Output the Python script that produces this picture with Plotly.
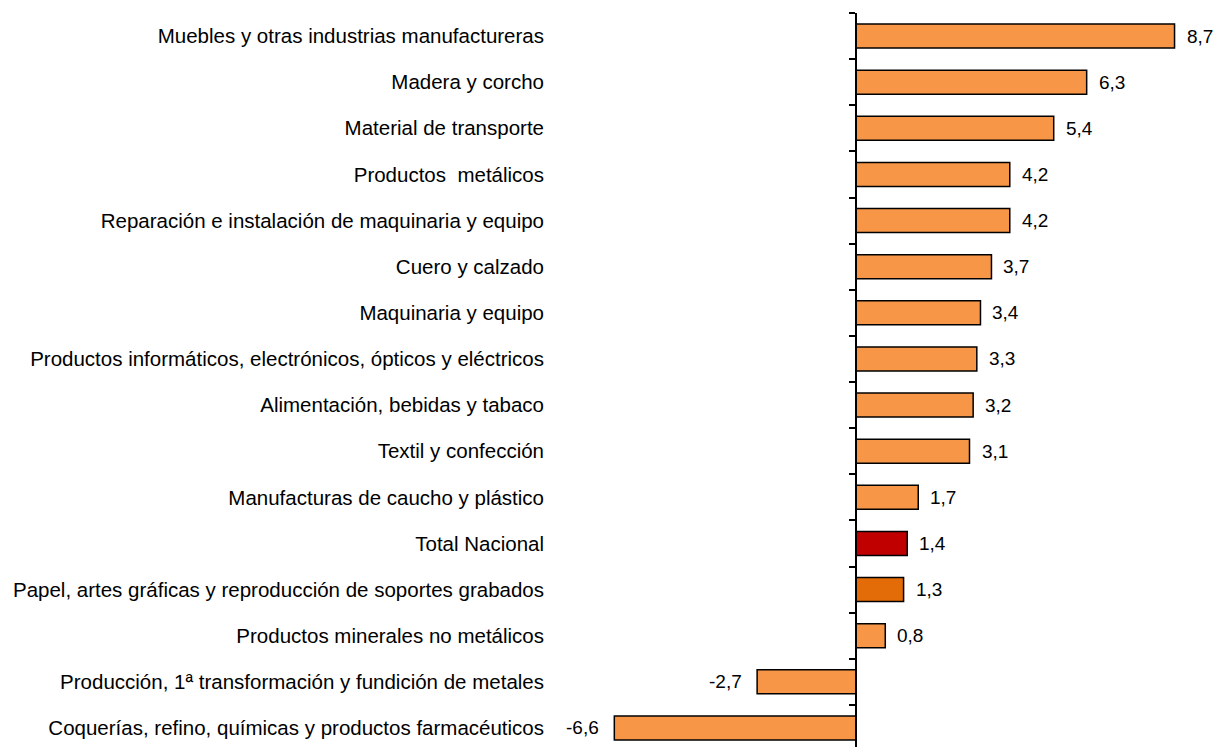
import plotly.graph_objects as go

categories = [
    "Muebles y otras industrias manufactureras",
    "Madera y corcho",
    "Material de transporte",
    "Productos  metálicos",
    "Reparación e instalación de maquinaria y equipo",
    "Cuero y calzado",
    "Maquinaria y equipo",
    "Productos informáticos, electrónicos, ópticos y eléctricos",
    "Alimentación, bebidas y tabaco",
    "Textil y confección",
    "Manufacturas de caucho y plástico",
    "Total Nacional",
    "Papel, artes gráficas y reproducción de soportes grabados",
    "Productos minerales no metálicos",
    "Producción, 1ª transformación y fundición de metales",
    "Coquerías, refino, químicas y productos farmacéuticos",
]
values = [8.7, 6.3, 5.4, 4.2, 4.2, 3.7, 3.4, 3.3, 3.2, 3.1, 1.7, 1.4, 1.3, 0.8, -2.7, -6.6]
highlight = {"Total Nacional": "#C00000",
             "Papel, artes gráficas y reproducción de soportes grabados": "#E36C09"}
base_color = "#F79646"

n = len(categories)
ypos = list(range(n))
colors = [highlight.get(c, base_color) for c in categories]

xmin, xmax = -8.22, 9.75
family = "Liberation Sans, Arial, sans-serif"
label_font = dict(family=family, size=20.5, color="#000000")
value_font = dict(family=family, size=19, color="#000000")

fig = go.Figure()
fig.add_trace(go.Bar(
    x=values, y=ypos, orientation="h",
    marker=dict(color=colors, line=dict(color="#000000", width=1.5)),
    width=0.52, showlegend=False, hoverinfo="skip",
))

def fmt(v):
    return f"{v:.1f}".replace(".", ",")

for v, y in zip(values, ypos):
    fig.add_annotation(
        x=v, y=y, xref="x", yref="y", text=fmt(v), showarrow=False,
        xanchor="left" if v >= 0 else "right",
        xshift=10 if v >= 0 else -13,
        font=value_font,
    )

fig.add_trace(go.Scatter(x=[None], y=[None], yaxis="y2", showlegend=False, hoverinfo="skip"))

yrange = [n - 0.5 - 0.087, -0.5]

fig.update_layout(
    width=1215, height=739,
    margin=dict(l=547, r=10, t=5, b=0),
    paper_bgcolor="#FFFFFF", plot_bgcolor="#FFFFFF",
    font=label_font,
    xaxis=dict(range=[xmin, xmax], showgrid=False, zeroline=False,
               showticklabels=False, ticks="", showline=False, fixedrange=True),
    yaxis=dict(range=yrange, tickvals=ypos, ticktext=categories,
               showgrid=False, zeroline=False, showline=False, ticks="",
               ticklabelstandoff=10, tickfont=label_font),
    yaxis2=dict(overlaying="y", anchor="free",
                position=(0 - xmin) / (xmax - xmin),
                range=yrange,
                tickvals=[i - 0.5 for i in range(n + 1)],
                showticklabels=False, ticks="outside", ticklen=6,
                tickwidth=1.5, tickcolor="#000000",
                showline=True, linecolor="#000000", linewidth=1.5,
                showgrid=False, zeroline=False, side="left"),
)

fig.write_html("out.html")
